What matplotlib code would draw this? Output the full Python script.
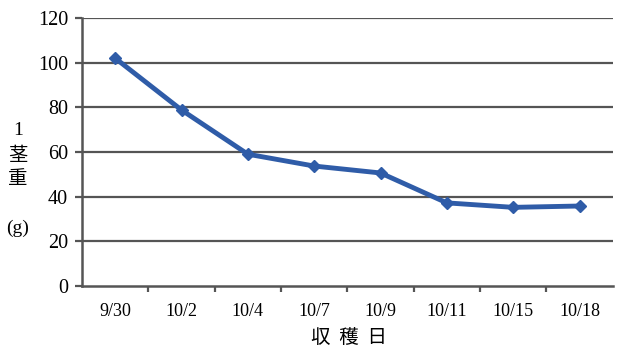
import matplotlib
matplotlib.use('Agg')
import matplotlib.pyplot as plt

plt.rcParams['font.family'] = ['Liberation Serif', 'Noto Sans CJK JP']

dates = ['9/30', '10/2', '10/4', '10/7', '10/9', '10/11', '10/15', '10/18']
weight = [102, 78.8, 59, 53.7, 50.6, 37.2, 35.2, 35.8]
yticks = [0, 20, 40, 60, 80, 100, 120]

fig = plt.figure(figsize=(6.17, 3.47), dpi=100)
ax = fig.add_axes([0.133, 0.176, 0.86, 0.772])

grid_col = '#555555'
x = range(len(dates))
ax.plot(x, weight, color='#2f5ca8', lw=3.5, marker='D', ms=6.5,
        markeredgecolor='#2f5ca8', zorder=3)

ax.set_xlim(-0.5, len(dates) - 0.5)
ax.set_ylim(0, 120)
ax.set_yticks(yticks)
for y in yticks[1:]:
    ax.axhline(y, color=grid_col, lw=1.6, zorder=1)

ax.set_xticks(x)
ax.set_xticklabels(dates, fontsize=13)
ax.set_xticks([i - 0.5 for i in range(1, len(dates))], minor=True)
ax.tick_params(axis='x', which='major', length=0, pad=12)
ax.tick_params(axis='x', which='minor', length=4, width=1.6, color=grid_col, direction='out')
ax.tick_params(axis='y', length=5, width=1.6, color=grid_col, labelsize=14.5, pad=5)

for side in ('top', 'right'):
    ax.spines[side].set_visible(False)
for side in ('left', 'bottom'):
    ax.spines[side].set_color(grid_col)
    ax.spines[side].set_linewidth(1.8)

fig.text(0.029, 0.625, '1', fontsize=14, ha='center', va='center')
fig.text(0.029, 0.553, '茎', fontsize=14, ha='center', va='center',
         family='Noto Sans CJK JP')
fig.text(0.029, 0.487, '重', fontsize=14, ha='center', va='center',
         family='Noto Sans CJK JP')
fig.text(0.029, 0.343, '(g)', fontsize=14, ha='center', va='center')
fig.text(0.566, 0.028, '収  穫  日', fontsize=14, ha='center', va='center',
         family='Noto Sans CJK JP')

fig.savefig('out.png', dpi=100)
